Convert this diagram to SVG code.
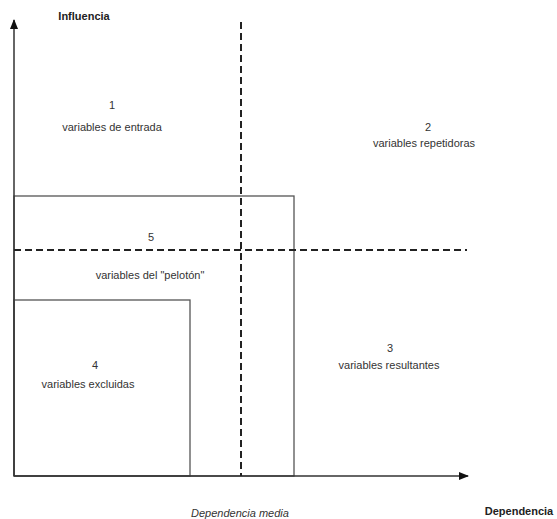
<svg xmlns="http://www.w3.org/2000/svg" width="557" height="519" viewBox="0 0 557 519">
<style>
text{font-family:"Liberation Sans",Arial,sans-serif;font-size:11px;fill:#333;text-anchor:middle}
.b{font-weight:bold;fill:#222}
.i{font-style:italic}
.box{fill:none;stroke:#555;stroke-width:1.3}
.axis{stroke:#333;stroke-width:1.5;fill:none}
.dash{stroke:#222;stroke-width:2;stroke-dasharray:7,4;fill:none}
</style>
<defs>
<marker id="arr" markerWidth="10" markerHeight="8" refX="9" refY="4" orient="auto" markerUnits="userSpaceOnUse">
<path d="M0,0 L10,4 L0,8 Z" fill="#111"/>
</marker>
</defs>
<rect width="557" height="519" fill="#fff"/>
<g id="region5">
<rect class="box" x="14" y="196" width="280" height="280"/>
<text x="151" y="241">5</text>
<text x="150" y="279">variables del "pelotón"</text>
</g>
<g id="region4">
<rect class="box" x="14" y="300" width="176" height="176"/>
<text x="95" y="369">4</text>
<text x="88" y="388">variables excluidas</text>
</g>
<g id="region1">
<text x="112" y="109">1</text>
<text x="112" y="131">variables de entrada</text>
</g>
<g id="region2">
<text x="428" y="131">2</text>
<text x="424" y="147">variables repetidoras</text>
</g>
<g id="region3">
<text x="390" y="352">3</text>
<text x="389" y="369">variables resultantes</text>
</g>
<g id="connectors">
<line class="axis" x1="14" y1="476" x2="14" y2="20" marker-end="url(#arr)"/>
<line class="axis" x1="14" y1="476" x2="468" y2="476" marker-end="url(#arr)"/>
<line class="dash" x1="241" y1="22" x2="241" y2="476"/>
<line class="dash" x1="14" y1="250" x2="467" y2="250"/>
</g>
<g id="labels">
<text class="b" x="84" y="20">Influencia</text>
<text class="i" x="240" y="517">Dependencia media</text>
<text class="b" x="519" y="515">Dependencia</text>
</g>
</svg>
